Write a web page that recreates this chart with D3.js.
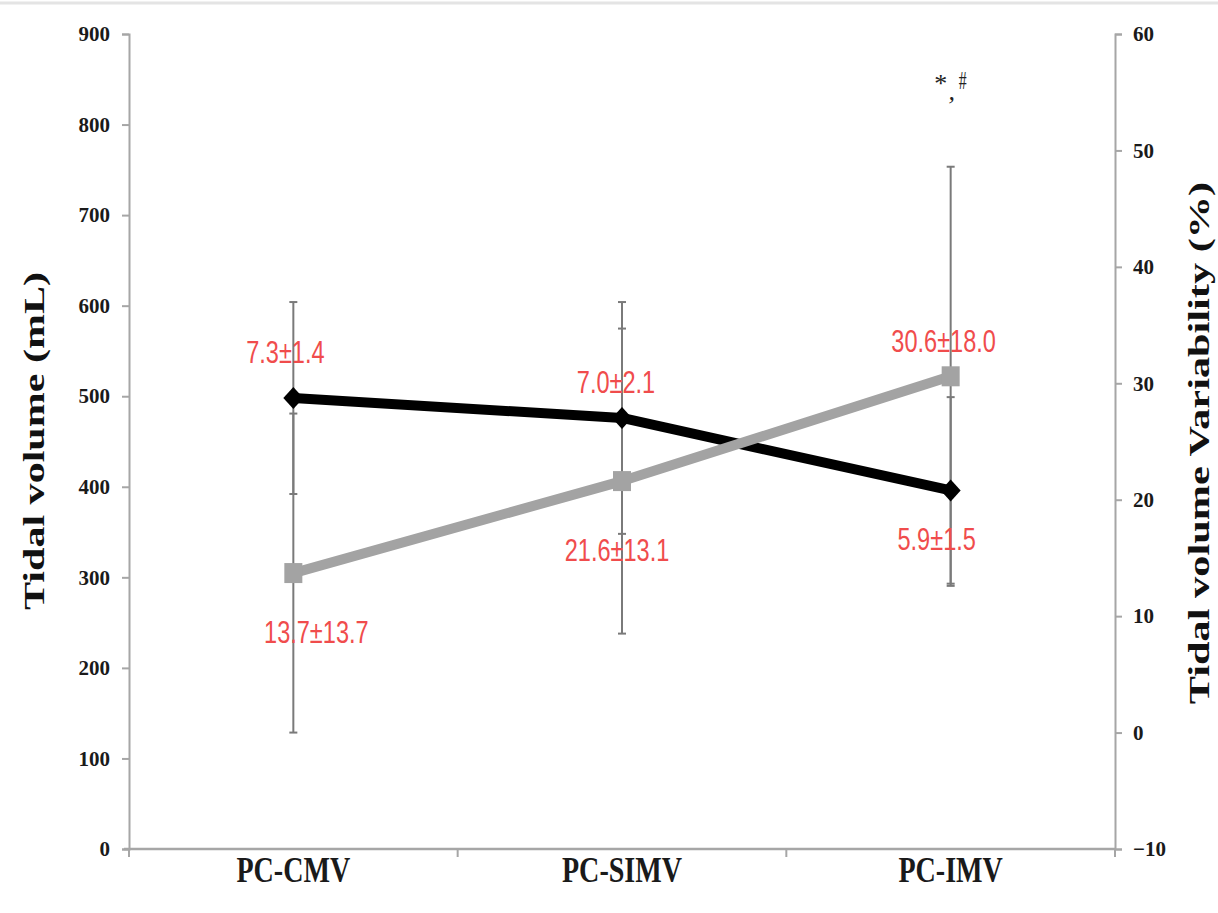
<!DOCTYPE html>
<html>
<head>
<meta charset="utf-8">
<script src="https://cdn.jsdelivr.net/npm/d3@7"></script>
<style>
  html, body { margin: 0; padding: 0; background: #fff; }
  svg { display: block; }
</style>
</head>
<body>
<svg id="chart" width="1218" height="913"></svg>
<script>
// Ventilation modes on the x axis
const categories = ["PC-CMV", "PC-SIMV", "PC-IMV"];

// Tidal volume (mL), mean and SD – left axis
const tidalVolume = [498, 476, 396];
const tidalVolumeSD = [106, 128, 103];

// Tidal volume normalised to body weight (mL/kg), shown as annotations
const tidalVolumePerKg = [7.3, 7.0, 5.9];
const tidalVolumePerKgSD = [1.4, 2.1, 1.5];

// Tidal volume variability (%), mean and SD – right axis
const variability = [13.7, 21.6, 30.6];
const variabilitySD = [13.7, 13.1, 18.0];

// Axis ticks
const leftTicks = [0, 100, 200, 300, 400, 500, 600, 700, 800, 900];
const rightTicks = [-10, 0, 10, 20, 30, 40, 50, 60];

// Significance marker above PC-IMV
const significanceMark = ["*", ",", "#"];

const W = 1218, H = 913;
const plot = { left: 129, right: 1115, top: 34, bottom: 849 };
const axisColor = "#a6a6a6";
const serif = "'Liberation Serif', 'Times New Roman', serif";
const sans = "'Liberation Sans', Arial, sans-serif";
const labelRed = "#f04c4c";

const svg = d3.select("#chart");

// faint frame line along the top edge
svg.append("line")
  .attr("x1", 0).attr("x2", W).attr("y1", 3).attr("y2", 3)
  .attr("stroke", "#e4e4e4").attr("stroke-width", 3);

const x = d3.scaleBand().domain(categories).range([plot.left, plot.right]);
const cx = c => x(c) + x.bandwidth() / 2;
const yL = d3.scaleLinear().domain([0, 900]).range([plot.bottom, plot.top]);
const yR = d3.scaleLinear().domain([-10, 60]).range([plot.bottom, plot.top]);

function styleAxis(g) {
  g.select(".domain").attr("stroke", axisColor).attr("stroke-width", 2);
  g.selectAll(".tick line").attr("stroke", axisColor).attr("stroke-width", 2);
  g.selectAll(".tick text")
    .attr("fill", "#1a1a1a")
    .style("font-family", serif)
    .style("font-weight", "bold")
    .style("font-size", "21px");
}

// left axis
svg.append("g")
  .attr("transform", `translate(${plot.left},0)`)
  .call(d3.axisLeft(yL).tickValues(leftTicks).tickSize(7).tickSizeOuter(7).tickPadding(12))
  .call(styleAxis);

// right axis
svg.append("g")
  .attr("transform", `translate(${plot.right},0)`)
  .call(d3.axisRight(yR).tickValues(rightTicks).tickSize(7).tickSizeOuter(7).tickPadding(11))
  .call(styleAxis);

// category axis: boundary ticks between bands, labels centred in bands
const boundaries = categories.map(c => x(c)).concat([x.range()[1]]);
const xAxis = svg.append("g").attr("transform", `translate(0,${plot.bottom})`);
xAxis.append("line")
  .attr("x1", x.range()[0] - 5).attr("x2", x.range()[1])
  .attr("stroke", axisColor).attr("stroke-width", 2.5);
xAxis.selectAll("line.sep").data(boundaries).join("line")
  .attr("class", "sep")
  .attr("x1", d => d).attr("x2", d => d)
  .attr("y1", 0).attr("y2", 8)
  .attr("stroke", axisColor).attr("stroke-width", 2);
xAxis.selectAll("text.cat").data(categories).join("text")
  .attr("class", "cat")
  .attr("transform", d => `translate(${cx(d)},33) scale(1.04,1.3)`)
  .attr("text-anchor", "middle")
  .style("font-family", serif)
  .style("font-weight", "bold")
  .style("font-size", "27px")
  .attr("fill", "#1a1a1a")
  .text(d => d);

// axis titles (stretched along their length)
svg.append("text")
  .attr("transform", `translate(44,441) rotate(-90) scale(1.45,1)`)
  .attr("text-anchor", "middle")
  .style("font-family", serif).style("font-weight", "bold").style("font-size", "29px")
  .attr("fill", "#111")
  .text("Tidal volume (mL)");

svg.append("text")
  .attr("transform", `translate(1209,443) rotate(-90) scale(1.46,1)`)
  .attr("text-anchor", "middle")
  .style("font-family", serif).style("font-weight", "bold").style("font-size", "29px")
  .attr("fill", "#111")
  .text("Tidal volume Variability (%)");

// error bars (drawn beneath the series)
function errorBars(values, sds, scale) {
  const g = svg.append("g").attr("stroke", "#7a7a7a").attr("stroke-width", 2);
  categories.forEach((c, i) => {
    const top = scale(values[i] + sds[i]);
    const bot = scale(values[i] - sds[i]);
    g.append("line").attr("x1", cx(c)).attr("x2", cx(c)).attr("y1", top).attr("y2", bot);
    g.append("line").attr("x1", cx(c) - 4).attr("x2", cx(c) + 4).attr("y1", top).attr("y2", top);
    g.append("line").attr("x1", cx(c) - 4).attr("x2", cx(c) + 4).attr("y1", bot).attr("y2", bot);
  });
}
errorBars(tidalVolume, tidalVolumeSD, yL);
errorBars(variability, variabilitySD, yR);

// tidal volume series (black, diamonds)
svg.append("path")
  .datum(tidalVolume)
  .attr("fill", "none").attr("stroke", "#000").attr("stroke-width", 10)
  .attr("stroke-linejoin", "round")
  .attr("d", d3.line().x((d, i) => cx(categories[i])).y(d => yL(d)));

// variability series (grey, squares)
svg.append("path")
  .datum(variability)
  .attr("fill", "none").attr("stroke", "#a3a3a3").attr("stroke-width", 10)
  .attr("stroke-linejoin", "round")
  .attr("d", d3.line().x((d, i) => cx(categories[i])).y(d => yR(d)));

svg.selectAll("path.diamond").data(tidalVolume).join("path")
  .attr("class", "diamond")
  .attr("d", (d, i) => {
    const px = cx(categories[i]), py = yL(d);
    return `M${px},${py - 11}L${px + 10},${py}L${px},${py + 11}L${px - 10},${py}Z`;
  })
  .attr("fill", "#000");

svg.selectAll("rect.square").data(variability).join("rect")
  .attr("class", "square")
  .attr("x", (d, i) => cx(categories[i]) - 9)
  .attr("y", d => yR(d) - 10)
  .attr("width", 18).attr("height", 20)
  .attr("fill", "#a3a3a3");

// value annotations, condensed red text
const fmt = (m, s) => `${m.toFixed(1)}±${s.toFixed(1)}`;
const tvOffsets = [[-8, -35], [-6, -25], [-14, 60]];
const varOffsets = [[23, 70], [-5, 80], [-7, -24]];

function annotate(values, scale, means, meanSDs, offsets) {
  svg.selectAll(null).data(values).join("text")
    .attr("transform", (d, i) =>
      `translate(${cx(categories[i]) + offsets[i][0]},${scale(d) + offsets[i][1]}) scale(0.76,1)`)
    .attr("text-anchor", "middle")
    .style("font-family", sans)
    .style("font-size", "31px")
    .attr("fill", labelRed)
    .text((d, i) => fmt(means[i], meanSDs[i]));
}
annotate(tidalVolume, yL, tidalVolumePerKg, tidalVolumePerKgSD, tvOffsets);
annotate(variability, yR, variability, variabilitySD, varOffsets);

// significance marker above PC-IMV
const imv = categories[2];
const mark = svg.append("g").style("font-family", serif).attr("fill", "#222");
mark.append("text").attr("x", cx(imv) - 10).attr("y", plot.top + 58)
  .attr("text-anchor", "middle").style("font-size", "26px")
  .text(significanceMark[0]);
mark.append("text").attr("x", cx(imv) + 1).attr("y", plot.top + 66)
  .attr("text-anchor", "middle").style("font-size", "26px").style("font-style", "italic")
  .text(significanceMark[1]);
mark.append("text")
  .attr("transform", `translate(${cx(imv) + 12},${plot.top + 55}) scale(0.75,1.25)`)
  .attr("text-anchor", "middle").style("font-size", "21px")
  .text(significanceMark[2]);
</script>
</body>
</html>
